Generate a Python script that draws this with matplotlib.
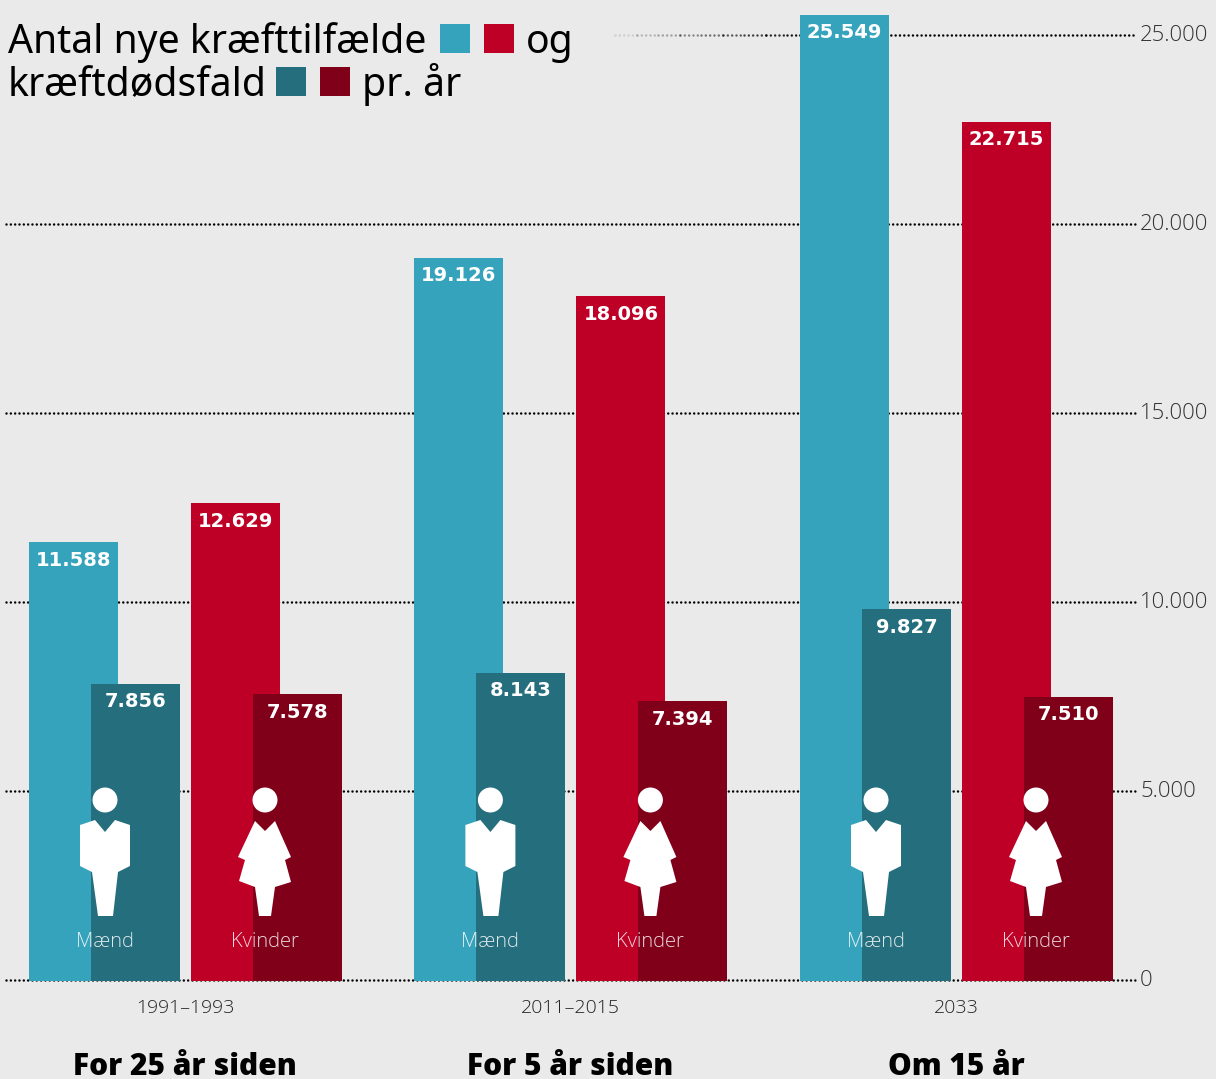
import matplotlib
matplotlib.use("Agg")
import matplotlib.pyplot as plt
from matplotlib.patches import Circle, Polygon, Rectangle

periods = ["1991–1993", "2011–2015", "2033"]
headings = ["For 25 år siden", "For 5 år siden", "Om 15 år"]
men_new = [11588, 19126, 25549]
men_dead = [7856, 8143, 9827]
women_new = [12629, 18096, 22715]
women_dead = [7578, 7394, 7510]
ticks = [0, 5000, 10000, 15000, 20000, 25000]

BG = "#EAEAEA"
BLUE = "#36A3BC"
RED = "#BE0027"
TEAL = "#246E7E"
DARK = "#80001A"

W, H = 1216, 1079
Y0, PX_PER_UNIT = 980.5, 945 / 25000

group_left = [29, 414.4, 800]
group_mid = [185, 570, 956]
bar_w = 89
offsets = [0, 62, 162, 224]

LIGHT = dict(family="Open Sans", fontweight="light")

# man / woman outlines, pixels relative to the head centre
man_shape = [(-25, 25), (-10, 20), (0, 32), (10, 20), (25, 25), (25, 66), (13, 72),
             (8, 116), (-7, 116), (-13, 72), (-25, 66)]
woman_shape = [(-10, 21), (0, 31), (10, 21), (26, 57), (20, 60), (26, 82), (10, 87),
               (6, 116), (-6, 116), (-10, 87), (-26, 81), (-20, 60), (-27, 57)]


def fmt(v):
    return f"{v:,}".replace(",", ".")


fig = plt.figure(figsize=(W / 100, H / 100), dpi=100, facecolor=BG)
ax = fig.add_axes([0, 0, 1, 1], facecolor=BG)
ax.set_xlim(0, W)
ax.set_ylim((Y0 - H) / PX_PER_UNIT, Y0 / PX_PER_UNIT)
ax.axis("off")

# overlay in pixel coordinates for icons and headline
px = fig.add_axes([0, 0, 1, 1], facecolor="none")
px.set_xlim(0, W)
px.set_ylim(H, 0)
px.axis("off")

dots = dict(color="black", lw=1.8, linestyle=(0, (0.01, 1.72)), dash_capstyle="round", zorder=1)
grid_shift = 0.8 / PX_PER_UNIT
for t in ticks:
    y = t + grid_shift
    if t == 25000:
        # top line fades out towards the headline
        ax.plot([800, 1135], [y, y], **dots)
        for i in range(9):
            x0 = 615 + i * 21.5
            ax.plot([x0, x0 + 21.5], [y, y], alpha=0.12 + 0.1 * i, **dots)
    else:
        ax.plot([6, 1135], [y, y], **dots)
    ax.text(1140, t - 10, fmt(t), ha="left", va="center", fontsize=15.9, color="#333333", **LIGHT)

series = [(men_new, BLUE, 0), (men_dead, TEAL, 1), (women_new, RED, 2), (women_dead, DARK, 3)]
for values, color, k in series:
    lefts = [g + offsets[k] for g in group_left]
    ax.bar(lefts, values, width=bar_w, align="edge", color=color, zorder=2 + k % 2)
    for x, v in zip(lefts, values):
        ax.text(x + bar_w / 2, v - 18 / PX_PER_UNIT, fmt(v), ha="center", va="center",
                color="white", fontsize=14, fontweight="bold", family="DejaVu Sans", zorder=5)

for g, mid, period, heading in zip(group_left, group_mid, periods, headings):
    px.text(mid, 1008, period, ha="center", va="center", fontsize=14, color="#222222", **LIGHT)
    px.text(mid, 1075, heading, ha="center", va="baseline", fontsize=21.5, color="black",
            family="Open Sans", fontweight="heavy")
    for shape, cx, label in [(man_shape, g + 76, "Mænd"), (woman_shape, g + 236, "Kvinder")]:
        px.add_patch(Circle((cx, 800), 12.5, color="white", lw=0))
        px.add_patch(Polygon([(cx + a, 800 + b) for a, b in shape], closed=True, color="white", lw=0))
        px.text(cx, 942, label, ha="center", va="center", fontsize=14.5, color="white", alpha=0.85, **LIGHT)

# headline with colour keys
title = dict(fontsize=28.2, color="black", va="baseline", ha="left", family="Noto Sans")
px.text(8, 53, "Antal nye kræfttilfælde", **title)
px.text(526, 53, "og", **title)
px.text(8, 96, "kræftdødsfald", **title)
px.text(362, 96, "pr. år", **title)
for x, y, c in [(440, 24, BLUE), (484, 24, RED), (276, 67, TEAL), (320, 67, DARK)]:
    px.add_patch(Rectangle((x, y), 30, 29, color=c, lw=0))

fig.savefig("out.png", dpi=100, facecolor=BG)
